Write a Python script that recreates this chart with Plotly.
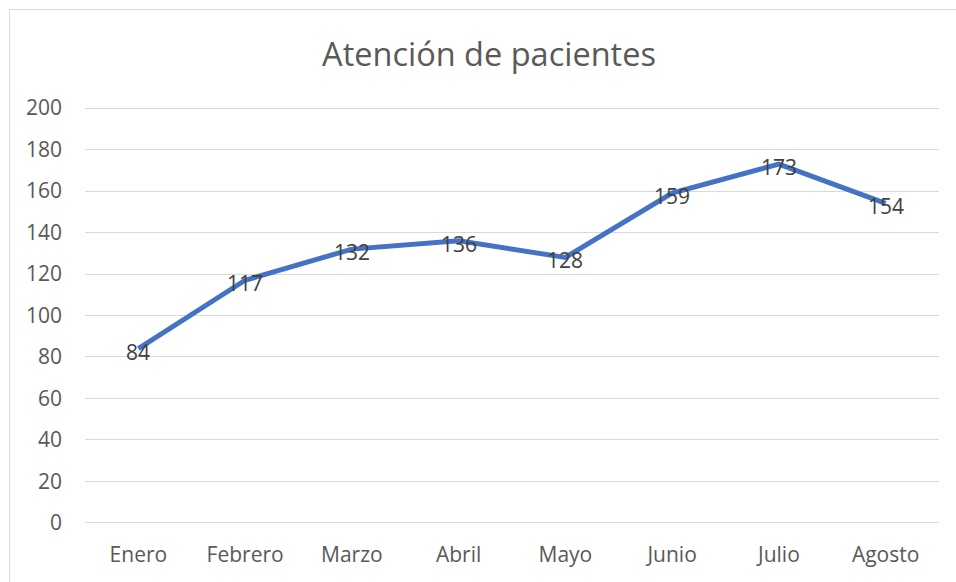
import plotly.graph_objects as go

months = ["Enero", "Febrero", "Marzo", "Abril", "Mayo", "Junio", "Julio", "Agosto"]
patients = [84, 117, 132, 136, 128, 159, 173, 154]
y_ticks = [0, 20, 40, 60, 80, 100, 120, 140, 160, 180, 200]

W, H = 956, 582
L, R, T, B = 85, 17, 107, 58
pw, ph = W - L - R, H - T - B

fig = go.Figure()
fig.add_trace(go.Scatter(
    x=months, y=patients, mode="lines",
    line=dict(color="#4472C4", width=5),
    cliponaxis=False, hoverinfo="skip",
))

for m, v in zip(months, patients):
    fig.add_annotation(x=m, y=v, text=str(v), showarrow=False, yshift=-3,
                       xanchor="center", yanchor="middle",
                       font=dict(family="Open Sans", size=21, color="#404040"))

def px_x(p):
    return (p - L) / pw

def px_y(p):
    return (H - B - p) / ph

fig.add_shape(type="rect", xref="paper", yref="paper",
              x0=px_x(9.5), x1=px_x(970), y0=px_y(9.5), y1=px_y(600),
              line=dict(color="#d9d9d9", width=1), fillcolor="rgba(0,0,0,0)", layer="below")

fig.update_layout(
    width=W, height=H,
    margin=dict(l=L, r=R, t=T, b=B),
    paper_bgcolor="white", plot_bgcolor="white",
    showlegend=False,
    title=dict(text="Atención de pacientes", x=489 / W, xref="container", xanchor="center",
               y=(H - 55) / H, yanchor="middle",
               font=dict(family="Open Sans", size=32.5, color="#595959")),
    xaxis=dict(type="category", range=[-0.5, 7.5], showgrid=False, zeroline=False,
               showline=False, ticks="", ticklabelstandoff=16,
               tickfont=dict(family="Open Sans", size=21, color="#595959")),
    yaxis=dict(range=[-0.5, 200.5], tickvals=y_ticks, showgrid=True, gridcolor="#d9d9d9",
               gridwidth=1, zeroline=False, showline=False, ticks="",
               ticklabelstandoff=22,
               tickfont=dict(family="Open Sans", size=21, color="#595959")),
)

fig.write_html("out.html", config={"displayModeBar": False},
               post_script="document.body.style.margin='0';document.body.style.overflow='hidden';")
